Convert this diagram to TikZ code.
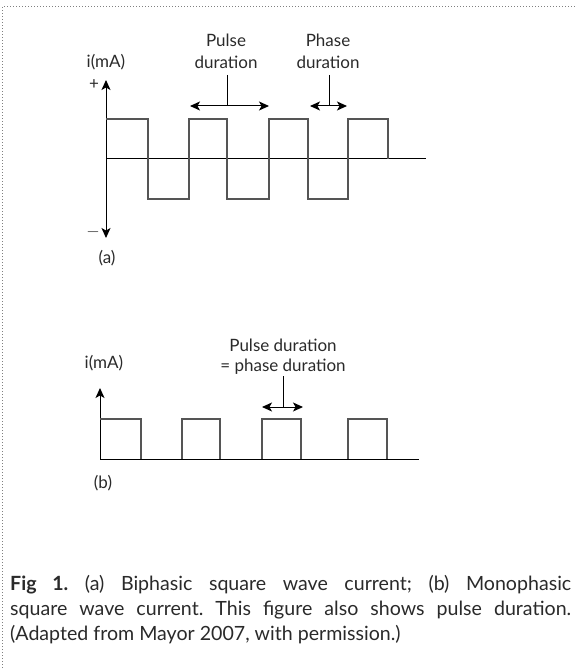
\documentclass[tikz,border=0pt]{standalone}
\usepackage{fontspec}
\setmainfont{Lato}
\usetikzlibrary{arrows.meta}
\definecolor{txt}{HTML}{2A2A2A}
\definecolor{wave}{HTML}{555555}
\tikzset{
  lbl/.style={font=\fontsize{17}{20}\selectfont, text=txt, inner sep=0pt},
  axisline/.style={line width=1pt, black},
  waveline/.style={line width=1.1pt, wave},
  dur/.style={line width=1pt, black, {Stealth[length=10pt,width=9pt,inset=2.5pt]}-{Stealth[length=10pt,width=9pt,inset=2.5pt]}},
  tip/.style={-{Stealth[length=10pt,width=9pt,inset=2.5pt]}},
}
\begin{document}
\begin{tikzpicture}[x=1pt,y=-1pt]
\useasboundingbox (0,0) rectangle (577,668);
% dotted frame
\draw[gray, dotted, line width=1pt] (2,668) -- (2,7) -- (577,7);

% ---------- (a) ----------
\coordinate (a0) at (106,159);
\coordinate (atop) at (106,80);
\coordinate (abot) at (106,238);
\coordinate (aend) at (426,159);
\draw[axisline, tip] (a0) -- (atop);
\draw[axisline, tip] (a0) -- (abot);
\draw[axisline] (a0) -- (aend);
\draw[waveline] (106,119) -- (148,119) -- (148,199) -- (189,199) -- (189,119)
  -- (227,119) -- (227,199) -- (269,199) -- (269,119) -- (308,119) -- (308,199)
  -- (348,199) -- (348,119) -- (388,119) -- (388,159);

\node[lbl] (ia) at (106,62) {i(mA)};
\node[lbl] (plus) at (94,85) {+};
\node[lbl] (minus) at (93,232) {$-$};
\node[lbl] (la) at (107,258) {(a)};

\node[lbl] (p1) at (226,40) {Pulse};
\node[lbl] (p2) at (226,62) {duration};
\node[lbl] (h1) at (328,40) {Phase};
\node[lbl] (h2) at (328,62) {duration};

\coordinate (pl) at (190,106);
\coordinate (pr) at (269,106);
\coordinate (pm) at (227,106);
\coordinate (pt) at (227,75);
\draw[dur] (pl) -- (pr);
\draw[axisline] (pt) -- (pm);
\coordinate (hl) at (310,106);
\coordinate (hr) at (347,106);
\coordinate (hm) at (329,106);
\coordinate (ht) at (329,75);
\draw[dur] (hl) -- (hr);
\draw[axisline] (ht) -- (hm);

% ---------- (b) ----------
\coordinate (b0) at (100,459);
\coordinate (btop) at (100,388);
\coordinate (bend) at (419,459);
\draw[axisline, tip] (b0) -- (btop);
\draw[axisline] (b0) -- (bend);
\draw[waveline] (100,419) -- (141,419) -- (141,459);
\draw[waveline] (182,459) -- (182,419) -- (220,419) -- (220,459);
\draw[waveline] (262,459) -- (262,419) -- (301,419) -- (301,459);
\draw[waveline] (348,459) -- (348,419) -- (387,419) -- (387,459);

\node[lbl] (ib) at (104,363) {i(mA)};
\node[lbl] (lb) at (103,483) {(b)};
\node[lbl] (q1) at (283,345) {Pulse duration};
\node[lbl] (q2) at (283,367) {= phase duration};

\coordinate (ql) at (262,407);
\coordinate (qr) at (303,407);
\coordinate (qm) at (283,407);
\coordinate (qt) at (283,376);
\draw[dur] (ql) -- (qr);
\draw[axisline] (qt) -- (qm);

% ---------- caption ----------
\node[anchor=north west, inner sep=0pt, text width=561pt, align=justify,
      font=\fontsize{19.6}{25}\selectfont, text=txt] (cap) at (10,575)
{\frenchspacing\textbf{Fig 1.} (a) Biphasic square wave current; (b) Monophasic\linebreak
square wave current. This figure also shows pulse duration.\linebreak
(Adapted from Mayor 2007, with permission.)};
\end{tikzpicture}
\end{document}
